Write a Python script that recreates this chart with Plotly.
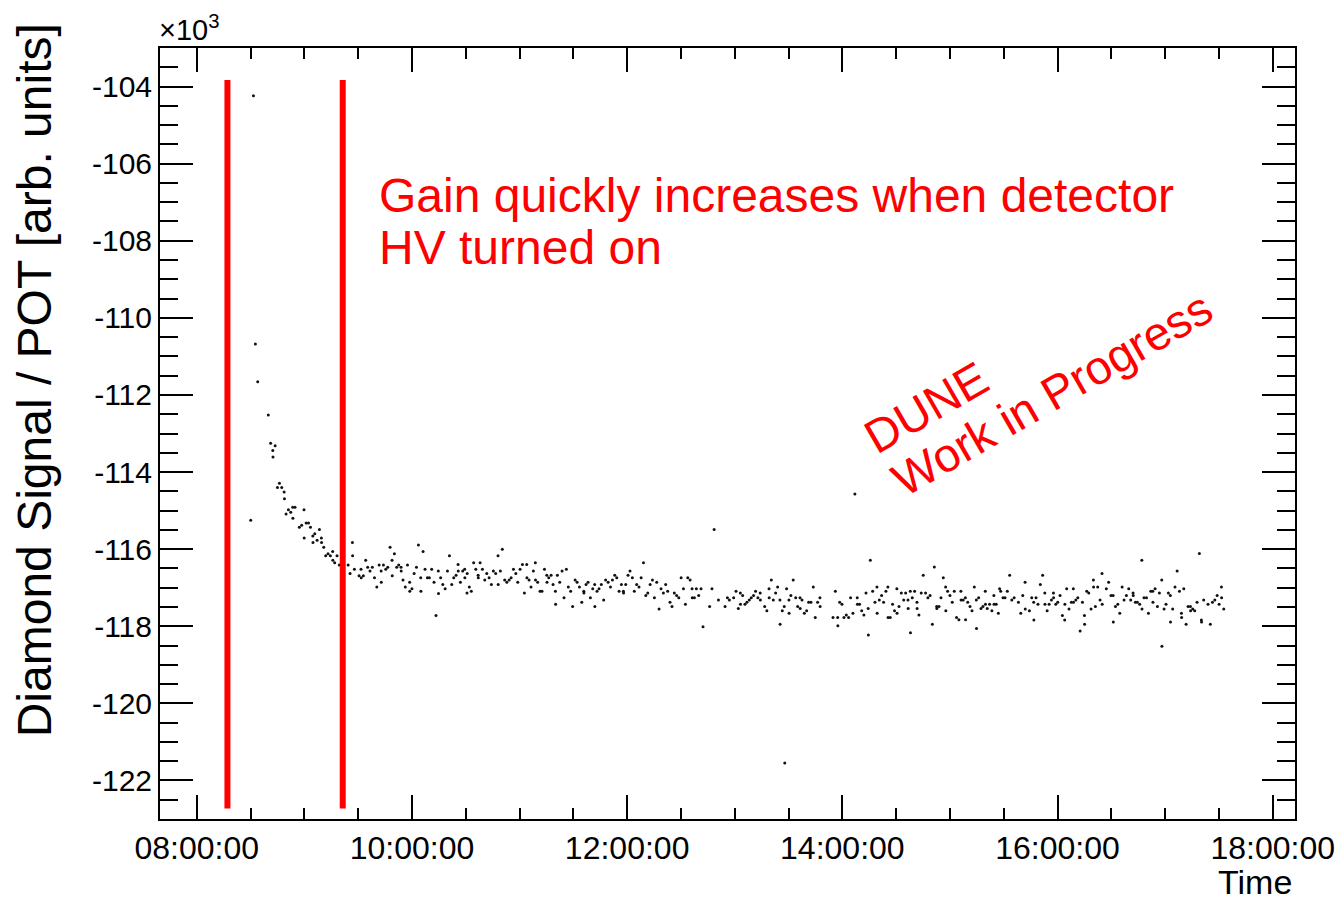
import pandas as pd
import plotly.graph_objects as go

# ---------------- data ----------------
# minutes after 08:00:00
time_min = [
    30.1, 31.6, 32.7, 34.0, 39.9, 41.2, 42.4, 42.5, 43.7, 45.0,
    46.1, 47.4, 48.7, 48.9, 49.8, 51.1, 52.4, 53.5, 53.6, 54.8,
    57.2, 58.5, 59.8, 59.9, 61.0, 62.3, 63.4, 64.7, 64.8, 65.8,
    67.1, 68.4, 69.5, 69.6, 70.8, 71.9, 73.2, 74.5, 75.8, 75.9,
    76.9, 78.2, 79.5, 84.4, 85.5, 86.8, 86.9, 87.9, 90.5, 91.6,
    91.7, 92.9, 94.2, 95.3, 96.6, 97.9, 99.1, 100.4, 101.7, 102.8,
    102.9, 104.1, 105.4, 106.5, 107.8, 108.9, 109.0, 110.2, 111.5, 112.6,
    113.9, 114.0, 115.0, 116.3, 117.5, 118.7, 118.8, 120.0, 121.2, 122.5,
    123.6, 124.9, 125.0, 126.2, 127.3, 128.6, 129.7, 131.0, 132.3, 133.4,
    134.7, 134.8, 136.0, 137.2, 138.5, 139.8, 140.9,
    142.2, 143.3, 144.6, 145.7, 145.8, 147.0, 148.3, 149.4, 149.5, 150.7,
    150.8, 152.0, 153.1, 154.4, 155.6, 156.9, 157.0, 158.0, 159.3, 160.6,
    161.7, 163.0, 164.3, 165.4, 166.7, 168.0, 168.1, 169.3, 170.4, 171.7,
    172.9, 174.2, 175.3, 176.6, 177.9, 179.0, 180.3, 181.6, 182.7, 184.0,
    184.1, 185.3, 186.4, 187.7, 188.8, 188.9, 190.1, 191.4, 192.5, 193.9,
    195.2, 195.3, 196.3, 197.6, 198.7, 200.0, 200.1, 201.1, 202.4, 203.7,
    204.8, 206.1, 207.2, 208.5, 209.6, 211.0, 212.1, 213.4, 214.7, 215.8,
    215.9, 217.1, 218.2, 219.5, 220.8, 221.9, 222.0, 223.2, 224.3, 225.6,
    226.9, 228.0, 229.4, 230.7, 231.8, 233.1, 234.2, 235.5, 236.8, 237.9,
    238.0, 239.2, 240.5, 241.6, 242.9, 244.0, 245.3, 246.6, 247.8, 249.1,
    250.4, 251.5, 252.8, 254.1, 255.2, 256.5, 257.8, 258.9, 260.2, 261.5,
    262.6, 263.9, 265.0, 266.3, 267.6, 268.8, 270.1, 271.4, 272.5, 273.8,
    275.1, 276.2, 276.3, 277.5, 278.6, 279.9, 281.2, 282.3, 286.0, 287.3,
    288.5, 290.9, 294.6, 295.9, 297.0,
    299.4, 300.7, 302.0, 303.1, 303.2, 304.4, 305.7, 306.8, 308.1, 309.2,
    310.5, 311.6, 312.9, 314.2, 314.3, 316.7, 317.9, 319.1, 319.2, 320.4,
    321.5, 322.8, 323.9, 325.2, 325.3, 326.5, 327.6, 327.9, 328.9, 330.2,
    330.3, 331.3, 332.6, 334.0, 335.1, 336.4, 336.5, 337.5, 338.8, 340.1,
    341.2, 342.5, 343.8, 344.9, 346.2, 347.5, 347.6, 354.8, 356.1, 357.4,
    357.5, 358.5, 359.8, 360.9, 362.2, 363.5, 364.6, 365.9, 367.0, 368.3,
    368.4, 369.6, 370.8, 372.0, 373.2, 374.4, 374.5, 375.6, 376.9, 378.2,
    379.3, 379.4, 380.6, 381.9, 383.0, 384.3, 385.4, 385.5, 386.7, 388.0,
    389.1, 390.4, 390.5, 391.6, 392.9, 394.2, 395.3, 396.6, 396.7, 397.9,
    398.0, 399.0, 400.3, 401.6, 401.7, 402.7, 404.0, 405.1, 406.4, 407.7,
    408.9, 410.2, 411.3, 412.6, 412.7, 413.9, 415.0, 416.3, 417.6, 417.7,
    418.7, 420.0, 421.3, 422.4, 423.7, 425.0, 426.1, 426.2, 427.4, 428.6,
    428.7, 429.9, 431.2, 432.3, 433.6, 434.7, 434.8, 436.0, 437.3, 438.4,
    439.7, 439.8, 440.8, 442.1, 443.4, 444.5, 444.6, 445.8, 447.0, 447.7,
    448.3, 449.6, 450.7, 452.0, 453.3, 454.5, 455.8, 458.2, 459.5, 460.6,
    461.9, 462.0, 464.3, 465.6, 466.7, 466.8, 468.0, 469.1, 470.4, 471.7,
    472.9, 473.0, 474.2, 475.3, 476.6, 477.7, 477.8, 479.0, 480.1, 481.4,
    482.7, 484.0, 484.1, 485.1, 486.4, 487.7, 488.8, 488.9, 490.2, 491.3,
    492.6, 493.9, 495.0, 495.1, 496.3, 497.4, 498.7, 500.0, 500.1, 501.1,
    502.4, 503.7, 504.8, 504.9, 507.2, 508.5, 509.8, 511.0, 511.1, 512.3,
    513.6, 514.7, 516.0, 517.1, 518.4, 519.7, 520.8, 522.1, 522.2, 523.4,
    524.5, 525.8, 527.0, 527.1, 528.2, 529.6, 530.7, 532.0, 533.1, 533.2,
    534.4, 535.7, 536.8, 538.1, 538.2, 539.4, 540.5, 541.8, 542.9, 543.0,
    544.2, 545.5, 546.7, 548.0, 549.1, 549.2, 550.4, 551.7, 552.8, 554.1,
    554.2, 555.4, 556.5, 557.8, 559.1, 560.2, 560.3, 561.5, 563.9, 565.2,
    566.4, 567.7, 569.0, 570.1, 571.4, 571.5, 572.7,
]

# Diamond signal / POT, in units of 10^3
signal_k = [
    -115.25, -104.24, -110.68, -111.66, -112.52, -113.25, -113.44, -113.61, -113.32, -114.40,
    -114.29, -114.40, -114.52, -114.69, -115.09, -114.98, -115.04, -114.91, -115.20, -114.91,
    -115.43, -115.38, -114.98, -115.71, -115.32, -115.32, -115.43, -115.66, -115.83, -115.60,
    -115.77, -115.49, -115.71, -115.83, -115.95, -116.17, -116.12, -116.17, -116.06, -116.29,
    -116.35, -116.17, -116.41, -116.41, -116.63, -115.83, -116.17, -116.52, -116.69, -116.52,
    -116.74, -116.69, -116.29, -116.47, -116.57, -116.47, -116.74, -116.98, -116.41, -116.57,
    -116.86, -116.41, -116.52, -116.47, -115.95, -116.29, -116.69, -116.12, -116.47, -116.41,
    -116.47, -116.57, -116.80, -116.98, -116.41, -116.86, -117.09, -117.03, -116.63, -116.47,
    -115.89, -116.74, -117.09, -116.06, -116.52, -116.74, -116.74, -116.52, -116.86, -117.72,
    -116.57, -117.15, -116.74, -116.92, -117.03, -116.57, -116.17,
    -116.92, -116.74, -116.68, -116.40, -116.57, -116.86, -116.57, -116.52, -116.74, -117.14,
    -116.63, -116.98, -117.09, -116.35, -116.52, -116.68, -116.74, -116.35, -116.52, -116.80,
    -116.63, -116.74, -116.92, -116.57, -116.63, -116.17, -116.92, -116.57, -116.00, -116.80,
    -116.86, -116.80, -116.74, -116.52, -116.63, -116.86, -116.52, -116.40, -117.14, -116.40,
    -116.74, -116.80, -116.98, -116.57, -116.35, -116.80, -116.86, -117.09, -117.09, -116.52,
    -116.68, -116.86, -116.74, -116.68, -116.92, -117.09, -117.43, -116.68, -116.86, -116.57,
    -117.26, -116.52, -116.98, -117.09, -117.49, -116.80, -116.86, -116.98, -117.38, -117.09,
    -117.14, -116.92, -116.86, -117.26, -117.03, -116.92, -117.49, -117.09, -117.03, -116.92,
    -117.32, -116.80, -116.86, -116.98, -116.80, -116.68, -116.74, -117.09, -116.92, -117.09,
    -117.14, -116.92, -116.68, -116.57, -116.74, -117.09, -116.92, -116.98, -116.74, -116.35,
    -117.20, -117.14, -116.92, -116.80, -117.26, -116.86, -117.55, -117.03, -117.14, -116.92,
    -117.09, -117.38, -117.49, -117.14, -117.20, -117.26, -116.74, -117.03, -117.43, -116.74,
    -116.80, -117.03, -117.26, -117.26, -117.03, -117.20, -117.03, -118.01, -117.49, -117.03,
    -115.49, -117.32, -117.49, -117.26, -117.32,
    -117.26, -117.09, -117.54, -117.14, -117.43, -117.20, -117.43, -117.38, -117.32, -117.26,
    -117.20, -117.09, -117.26, -117.14, -117.32, -117.49, -117.60, -117.03, -117.26, -116.80,
    -117.32, -117.14, -116.98, -117.32, -117.95, -117.60, -117.49, -121.55, -117.03, -117.32,
    -117.66, -117.20, -116.80, -117.26, -117.49, -117.26, -117.54, -117.32, -117.66, -117.60,
    -117.38, -117.38, -116.98, -117.77, -117.38, -117.26, -117.49, -117.77, -117.09, -117.77,
    -117.99, -117.38, -117.43, -117.77, -117.71, -117.77, -117.26, -117.66, -114.57, -117.26,
    -117.43, -117.43, -117.60, -117.71, -117.14, -117.54, -118.23, -116.29, -117.09, -117.38,
    -116.98, -117.66, -117.32, -117.20, -117.38, -117.09, -116.98, -117.77, -117.77, -117.43,
    -117.60, -117.03, -117.66, -117.49, -117.14, -117.32, -117.14, -117.32, -117.54, -117.09,
    -118.17, -117.26, -117.09, -117.38, -117.54, -117.71, -117.14, -116.68, -117.14, -117.26,
    -117.20, -117.95, -116.46, -117.49, -117.54, -117.49, -117.26, -116.74, -116.98, -117.60,
    -117.09, -117.20, -117.38, -117.09, -117.77, -117.83, -117.09, -117.32, -117.32, -117.26,
    -117.83, -117.38, -117.49, -117.60, -116.98, -117.32, -118.06, -117.26, -117.54, -117.49,
    -117.09, -117.43, -117.54, -117.43, -117.60, -117.20, -117.43, -117.43, -117.66, -117.03,
    -117.09, -117.26, -117.26, -117.09, -116.68, -117.32, -117.26, -117.38, -117.66, -117.20,
    -116.86, -117.55, -117.60, -117.26, -117.38, -117.84, -117.26, -117.43, -116.92, -116.68,
    -117.14, -117.43, -117.60, -117.43, -117.32, -117.14, -117.26, -117.43, -117.38, -117.20,
    -117.72, -117.84, -117.43, -117.03, -117.55, -117.38, -117.03, -117.38, -117.32, -117.26,
    -118.12, -117.38, -117.72, -117.95, -117.09, -117.14, -117.55, -116.80, -116.98, -117.49,
    -116.98, -117.32, -116.63, -117.43, -117.03, -116.86, -117.20, -117.20, -117.89, -117.49,
    -117.43, -117.66, -116.98, -117.32, -117.20, -117.03, -117.32, -117.14, -117.20, -117.38,
    -117.38, -117.43, -116.29, -117.55, -117.26, -117.26, -117.66, -117.09, -117.09, -117.38,
    -117.03, -117.49, -117.14, -116.80, -118.52, -117.55, -117.43, -117.14, -117.20, -117.89,
    -117.55, -116.98, -116.57, -117.09, -117.66, -117.77, -117.03, -117.95, -117.49, -117.49,
    -117.60, -117.55, -117.60, -117.38, -116.11, -117.84, -117.89, -117.32, -117.43, -117.95,
    -117.38, -117.32, -117.20, -117.43, -116.98, -117.26, -117.55,
]

# detector HV marker lines (minutes after 08:00) and their vertical extent (x10^3)
hv_line_min = [17.1, 81.4]
hv_line_y = [-103.83, -122.73]

y_tick_vals = [-122, -120, -118, -116, -114, -112, -110, -108, -106, -104]
y_tick_text = ["-122", "-120", "-118", "-116", "-114", "-112", "-110", "-108", "-106", "-104"]

day = pd.Timestamp("2024-01-01 08:00:00")
x_range = ["2024-01-01 07:39:30", "2024-01-01 18:12:25"]
y_range = [-123, -103]

# ---------------- figure ----------------
times = day + pd.to_timedelta(time_min, unit="min")

FONT = "Liberation Sans, Arial, Helvetica, sans-serif"
RED = "#ff0000"

fig = go.Figure()
fig.add_trace(go.Scatter(
    x=times, y=signal_k, mode="markers",
    marker=dict(size=3, color="#111111", line=dict(width=0)),
    showlegend=False, hoverinfo="x+y",
))

for m in hv_line_min:
    t = (day + pd.Timedelta(minutes=m)).strftime("%Y-%m-%d %H:%M:%S")
    fig.add_shape(type="line", xref="x", yref="y", x0=t, x1=t,
                  y0=hv_line_y[0], y1=hv_line_y[1],
                  line=dict(color=RED, width=6))

axis_common = dict(
    showline=True, linecolor="black", linewidth=2, mirror="ticks",
    ticks="inside", tickcolor="black", tickwidth=1.5,
    showgrid=False, zeroline=False, automargin=False,
)

fig.update_xaxes(
    type="date", range=x_range,
    tickformat="%H:%M:%S", tick0="2024-01-01 08:00:00", dtick=7200000,
    ticklen=24, ticklabeloverflow="allow",
    minor=dict(tick0="2024-01-01 08:00:00", dtick=1800000, ticks="inside",
               ticklen=11, tickwidth=1.5, tickcolor="black"),
    tickfont=dict(family=FONT, size=32, color="black"),
    **axis_common,
)
fig.update_yaxes(
    range=y_range, tickmode="array", tickvals=y_tick_vals, ticktext=y_tick_text,
    ticklen=33,
    minor=dict(tickmode="linear", tick0=-123, dtick=0.5, ticks="inside",
               ticklen=18, tickwidth=1.5, tickcolor="black"),
    tickfont=dict(family=FONT, size=30, color="black"),
    **axis_common,
)

ann = []
ann.append(dict(text="Diamond Signal / POT [arb. units]", textangle=-90,
                xref="paper", yref="paper", x=0, y=0.569, xanchor="center", yanchor="middle",
                xshift=-126, showarrow=False, font=dict(family=FONT, size=48, color="black")))
ann.append(dict(text="×10<sup>3</sup>", xref="paper", yref="paper", x=0, y=1,
                xanchor="left", yanchor="bottom", xshift=-3, showarrow=False,
                font=dict(family=FONT, size=29, color="black")))
ann.append(dict(text="Time", xref="paper", yref="paper", x=1, y=-0.0817,
                xanchor="right", yanchor="middle", xshift=-1, showarrow=False,
                font=dict(family=FONT, size=34, color="black")))
ann.append(dict(text="Gain quickly increases when detector",
                xref="paper", yref="paper", x=0.1912, y=0.8093, xanchor="left", yanchor="middle",
                showarrow=False, font=dict(family=FONT, size=48, color=RED)))
ann.append(dict(text="HV turned on",
                xref="paper", yref="paper", x=0.1912, y=0.7406, xanchor="left", yanchor="middle",
                showarrow=False, font=dict(family=FONT, size=48, color=RED)))
ann.append(dict(text="DUNE", textangle=-30, xref="paper", yref="paper", x=0.6750, y=0.5331,
                xanchor="center", yanchor="middle", showarrow=False,
                font=dict(family=FONT, size=47, color=RED)))
ann.append(dict(text="Work in Progress", textangle=-30, xref="paper", yref="paper",
                x=0.7860, y=0.5525, xanchor="center", yanchor="middle", showarrow=False,
                font=dict(family=FONT, size=47, color=RED)))

fig.update_layout(
    width=1339, height=902,
    margin=dict(l=160, r=44, t=48, b=83, autoexpand=False),
    paper_bgcolor="white", plot_bgcolor="white",
    font=dict(family=FONT, color="black"),
    annotations=ann,
)

fig.write_html("out.html")
